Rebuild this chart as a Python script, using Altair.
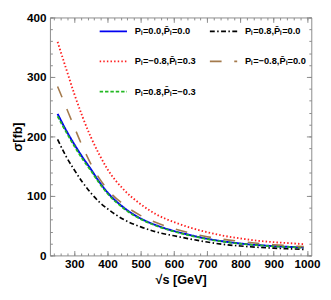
import altair as alt
import pandas as pd

# sqrt(s) in GeV
x_vals = [250, 275, 300, 325, 350, 375, 400, 450, 500, 550, 600, 650, 700, 750, 800, 850, 900, 950, 990]

# sigma [fb]
blue_00 = [238, 211, 187, 165, 145, 124, 106, 80, 62, 50, 41, 34, 28, 23.5, 20, 17.5, 15.6, 14.3, 13.4]
red_m08_03 = [359, 315, 272, 233, 199, 170, 145, 110, 86, 68, 56, 46.5, 39, 33, 28.5, 24.8, 22.3, 20.5, 19]
green_08_m03 = [234, 208, 184, 162, 142.5, 122, 104, 78.5, 61, 49, 40.2, 33.3, 27.4, 23, 19.6, 17.2, 15.3, 14, 13.1]
black_08_00 = [195, 167, 144, 123, 105, 90, 78.5, 60, 48, 39, 33, 27.5, 22.5, 18.5, 15.8, 13.8, 12.2, 11, 10.2]
brown_m08_00 = [284, 250, 216, 183, 154, 130, 111, 85, 67, 54.5, 45, 37.5, 31.5, 27, 23.5, 20.5, 18, 16.2, 14.8]

labels = [
    "P\u2097=0.0,P\u0304\u2097=0.0",
    "P\u2097=\u22120.8,P\u0304\u2097=0.3",
    "P\u2097=0.8,P\u0304\u2097=\u22120.3",
    "P\u2097=0.8,P\u0304\u2097=0.0",
    "P\u2097=\u22120.8,P\u0304\u2097=0.0",
]
series = [blue_00, red_m08_03, green_08_m03, black_08_00, brown_m08_00]
colors = ["#0000f0", "#ff2020", "#22b822", "#000000", "#a47a4c"]
dashes = [[1, 0], [1.5, 2.2], [3.5, 2], [5, 2.5, 1.5, 2.5], [12, 13]]
widths = [2, 1.6, 2, 1.6, 2.2]
orders = [1, 2, 4, 0, 3]

x_major = [300, 400, 500, 600, 700, 800, 900, 1000]
x_minor = list(range(240, 1001, 20))
y_major = [0, 100, 200, 300, 400]
y_minor = list(range(0, 401, 20))

rows = []
for lab, vals, o in zip(labels, series, orders):
    for xv, yv in zip(x_vals, vals):
        rows.append({"x": xv, "y": yv, "series": lab, "ord": o})
df = pd.DataFrame(rows)

W, H = 268, 244
xs = alt.Scale(domain=[227, 1013], nice=False, zero=False)
ys = alt.Scale(domain=[0, 400], nice=False)
FONT = "Liberation Sans"
FRAME = "#8a8a8a"

def ax(orient, values, size, labels=False, title=None, **kw):
    return alt.Axis(orient=orient, values=values, tickSize=size, offset=-size,
                    labels=labels, title=title, domain=False, grid=False,
                    tickColor=FRAME, tickWidth=1, **kw)

def leg():
    return alt.Legend(orient="none", legendX=50, legendY=-1, columns=2,
                      columnPadding=10, rowPadding=11, title=None,
                      symbolType="stroke", symbolSize=784,
                      symbolStrokeWidth=2, labelFont=FONT,
                      labelFontSize=9.5, labelFontWeight="bold",
                      labelColor="black", labelOffset=7, padding=0)

main = alt.Chart(df).mark_line(interpolate="monotone", strokeCap="butt").encode(
    x=alt.X("x:Q", scale=xs,
            axis=ax("bottom", x_major, 5, labels=True, title="\u221as [GeV]",
                    labelPadding=3, titlePadding=5, format="d")),
    y=alt.Y("y:Q", scale=ys,
            axis=ax("left", y_major, 5, labels=True, title="\u03c3[fb]",
                    labelPadding=4, titlePadding=2, format="d")),
    color=alt.Color("series:N", scale=alt.Scale(domain=labels, range=colors), legend=leg()),
    strokeDash=alt.StrokeDash("series:N", scale=alt.Scale(domain=labels, range=dashes), legend=leg()),
    strokeWidth=alt.StrokeWidth("series:N", scale=alt.Scale(domain=labels, range=widths), legend=None),
    order=alt.Order("ord:Q"),
)

def ghost(xaxis, yaxis):
    return alt.Chart(df).mark_point(opacity=0).encode(
        x=alt.X("x:Q", scale=xs, axis=xaxis),
        y=alt.Y("y:Q", scale=ys, axis=yaxis),
    )

minor_bl = ghost(ax("bottom", x_minor, 2.5), ax("left", y_minor, 2.5))
major_tr = ghost(ax("top", x_major, 5), ax("right", y_major, 5))
minor_tr = ghost(ax("top", x_minor, 2.5), ax("right", y_minor, 2.5))

chart = alt.layer(main, minor_bl, major_tr, minor_tr).resolve_axis(
    x="independent", y="independent"
).properties(
    width=W, height=H,
    autosize=alt.AutoSizeParams(type="none"),
    padding={"left": 43, "top": 6, "right": 12, "bottom": 42},
).configure_view(
    stroke=FRAME, strokeWidth=1
).configure_axis(
    labelFont=FONT, labelFontSize=12, labelFontWeight="bold", labelColor="black",
    titleFont=FONT, titleFontSize=13, titleFontWeight="bold", titleColor="black",
)

chart.save("out.html", embed_options={"renderer": "svg", "actions": False})
